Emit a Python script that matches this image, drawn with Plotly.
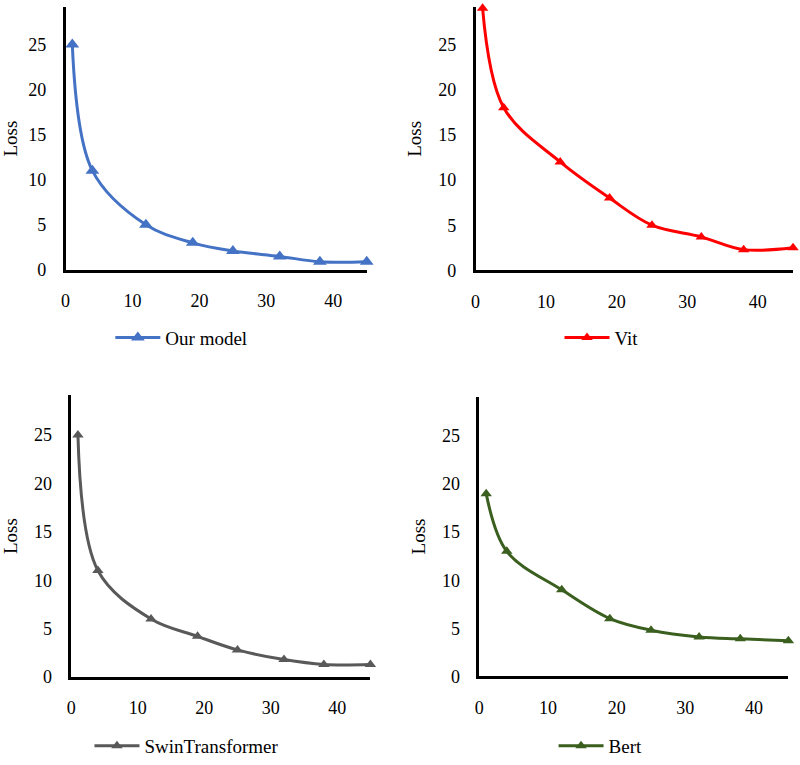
import plotly.graph_objects as go

# ---- data ----
epochs = [1, 4, 12, 19, 25, 32, 38, 45]
our_model = [25, 11, 5, 3, 2.1, 1.5, 0.9, 0.9]
vit = [29, 18, 12, 8, 5, 3.7, 2.3, 2.5]
swin = [25, 11, 6, 4.2, 2.8, 1.8, 1.3, 1.3]
bert = [19, 13, 9, 6, 4.8, 4.1, 3.9, 3.7]

series_names = ["Our model", "Vit", "SwinTransformer", "Bert"]
series_values = [our_model, vit, swin, bert]
colors = ["#4472C4", "#FF0000", "#595959", "#3A5F1F"]
marker_sizes = [12, 10, 10, 10]

x_ticks = [0, 10, 20, 30, 40]
y_ticks = [0, 5, 10, 15, 20, 25]

FONT = "Liberation Serif, Times New Roman, serif"
W, H = 800, 765

# panel geometry in pixels: (x_left, x_right, y_top, y_bottom)
panels = [
    (61, 364, 7.5, 273.5),
    (473.5, 793, 7.5, 274),
    (66.7, 367.7, 400.5, 686),
    (477.3, 788.3, 401.8, 685.3),
]
legend_pos = [(106, 342), (558, 342), (85, 756), (552, 756)]

fig = go.Figure()
layout = dict(
    width=W, height=H,
    margin=dict(l=0, r=0, t=0, b=0),
    paper_bgcolor="white", plot_bgcolor="white",
    font=dict(family=FONT, size=18, color="black"),
    showlegend=True,
)

for i, (name, vals, col, ms) in enumerate(zip(series_names, series_values, colors, marker_sizes)):
    n = i + 1
    xa = "x" if n == 1 else f"x{n}"
    ya = "y" if n == 1 else f"y{n}"
    lg = "legend" if n == 1 else f"legend{n}"
    fig.add_trace(go.Scatter(
        x=epochs, y=vals, name=name, mode="lines+markers",
        line=dict(color=col, width=3, shape="spline", smoothing=1.0),
        marker=dict(symbol="triangle-up", size=ms, color=col),
        xaxis=xa, yaxis=ya, legend=lg, cliponaxis=False,
    ))
    xl, xr, yt, yb = panels[i]
    xkey = "xaxis" if n == 1 else f"xaxis{n}"
    ykey = "yaxis" if n == 1 else f"yaxis{n}"
    layout[xkey] = dict(
        domain=[xl / W, xr / W], range=[0, 45], anchor=ya,
        tickvals=x_ticks, showgrid=False, zeroline=False,
        showline=True, linecolor="black", linewidth=2.5,
        ticks="", ticklabelstandoff=13,
        tickfont=dict(family=FONT, size=18, color="black"),
    )
    layout[ykey] = dict(
        domain=[1 - yb / H, 1 - yt / H], range=[0, 29.1], anchor=xa,
        tickvals=y_ticks, showgrid=False, zeroline=False,
        showline=True, linecolor="black", linewidth=2.5,
        ticks="", ticklabelstandoff=13,
        tickfont=dict(family=FONT, size=18, color="black"),
        title=dict(text="Loss", font=dict(family=FONT, size=19, color="black"), standoff=12),
    )
    lx, ly = legend_pos[i]
    layout[lg] = dict(
        x=lx / W, y=1 - ly / H, xanchor="left", yanchor="middle",
        bgcolor="rgba(0,0,0,0)", borderwidth=0,
        font=dict(family=FONT, size=19, color="black"),
        itemwidth=45,
    )

fig.update_layout(**layout)
fig.write_html("out.html")
